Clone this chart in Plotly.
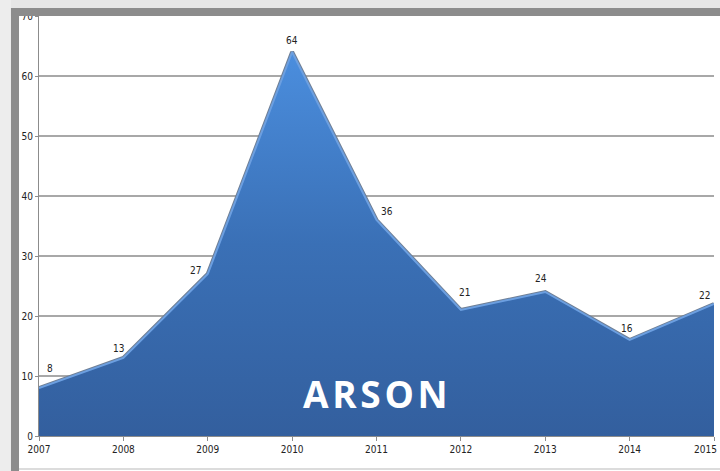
import plotly.graph_objects as go

# Dati
years = [2007, 2008, 2009, 2010, 2011, 2012, 2013, 2014, 2015]
arson = [8, 13, 27, 64, 36, 21, 24, 16, 22]
y_ticks = [0, 10, 20, 30, 40, 50, 60, 70]

# spostamento etichette (pixel)
label_dx = [11, -5, -12, 0, 10, 4, -4, -3, -10]
label_dy = [20, 10, 4, 12, 9, 18, 14, 12, 9]

FONT_NARROW = "Liberation Sans Narrow, DejaVu Sans Condensed, sans-serif"

fig = go.Figure()

# bordo scuro esterno
fig.add_trace(go.Scatter(
    x=years, y=arson, mode="lines",
    line=dict(color="#6f7f95", width=4),
    hoverinfo="skip", showlegend=False
))

# area con gradiente
fig.add_trace(go.Scatter(
    x=years, y=arson, mode="lines", fill="tozeroy",
    line=dict(color="#6c9fe0", width=2),
    fillgradient=dict(
        type="vertical",
        colorscale=[[0, "#335f9e"], [0.5, "#3a70b6"], [1, "#4b8ede"]],
    ),
    showlegend=False,
    hovertemplate="%{x}: %{y}<extra></extra>"
))

# etichette dei valori
for x, y, dx, dy in zip(years, arson, label_dx, label_dy):
    fig.add_annotation(
        x=x, y=y, text=str(y), showarrow=False,
        xshift=dx, yshift=dy,
        font=dict(family=FONT_NARROW, size=10, color="#222222")
    )

# ultima etichetta dell'asse x, spinta dentro al bordo destro
fig.add_annotation(
    x=years[-1], y=0, text=str(years[-1]), showarrow=False,
    xanchor="right", yanchor="top", xshift=5, yshift=-6,
    font=dict(family=FONT_NARROW, size=10, color="#222222")
)

# titolo dentro l'area
fig.add_annotation(
    x=0.499, y=0.102, xref="paper", yref="paper",
    xanchor="center", yanchor="middle",
    text="<b>A R S O N</b>".replace(" ", "&#8202;"), showarrow=False,
    font=dict(family="Open Sans, sans-serif", size=37, color="white")
)

# cornice grigia (ombra + bordo)
frame = [
    # ombra superiore e sinistra
    dict(x0=-0.06, x1=1.01, y0=1.019, y1=1.04, color="#e6e6e6"),
    dict(x0=-0.06, x1=-0.0415, y0=-0.1, y1=1.04, color="#ededed"),
    # bordo
    dict(x0=-0.0415, x1=1.01, y0=1.0, y1=1.019, color="#8c8c8c"),
    dict(x0=-0.0415, x1=-0.0296, y0=-0.1, y1=1.019, color="#8c8c8c"),
]
for f in frame:
    fig.add_shape(
        type="rect", xref="paper", yref="paper",
        x0=f["x0"], x1=f["x1"], y0=f["y0"], y1=f["y1"],
        fillcolor=f["color"], line_width=0, layer="above"
    )
fig.add_shape(
    type="line", xref="paper", yref="paper",
    x0=-0.0296, x1=1.01, y0=-0.0786, y1=-0.0786,
    line=dict(color="#d0d0d0", width=1.5), layer="above"
)

fig.update_layout(
    width=720, height=471,
    margin=dict(l=39, r=6, t=16, b=35),
    paper_bgcolor="white", plot_bgcolor="white",
    xaxis=dict(
        range=[2007, 2015], tickmode="array", tickvals=years,
        ticktext=[str(v) for v in years[:-1]] + [""],
        showgrid=False, zeroline=False,
        showline=True, linecolor="#8c8c8c", linewidth=1,
        ticks="outside", ticklen=4, tickcolor="#8c8c8c",
        tickfont=dict(family=FONT_NARROW, size=10, color="#222222"),
    ),
    yaxis=dict(
        range=[0, 70], tickmode="array", tickvals=y_ticks,
        showgrid=True, gridcolor="#a8a8a8", gridwidth=1.5,
        zeroline=False,
        showline=True, linecolor="#8c8c8c", linewidth=1,
        ticks="outside", ticklen=3, tickcolor="#8c8c8c",
        tickfont=dict(family=FONT_NARROW, size=10, color="#222222"),
    ),
)

# niente margine del body: la figura parte da (0, 0)
fig.write_html(
    "out.html",
    config={"displayModeBar": False},
    post_script="document.body.style.margin='0';",
)
